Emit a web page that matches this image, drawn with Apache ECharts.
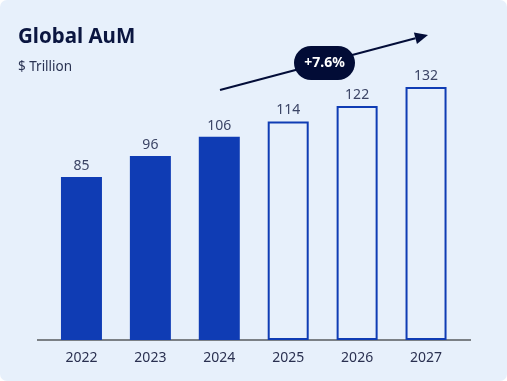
<!DOCTYPE html>
<html>
<head>
<meta charset="utf-8">
<script src="https://cdn.jsdelivr.net/npm/echarts@6/dist/echarts.min.js"></script>
<style>
html,body{margin:0;padding:0;background:#ffffff;}
#card{position:absolute;left:0;top:0;width:507px;height:381px;background:#e7f0fb;border-radius:7px;overflow:hidden;}
#chart{width:507px;height:381px;}
</style>
</head>
<body>
<div id="card"><div id="chart"></div></div>
<script>
const years = ['2022', '2023', '2024', '2025', '2026', '2027'];
const aum = [85, 96, 106, 114, 122, 132];
const forecastFrom = 3; // index of first projected year
const cagrLabel = '+7.6%';

const BLUE = '#0f3cb4';
const FONT = '"Noto Sans", "Open Sans", sans-serif';

const chart = echarts.init(document.getElementById('chart'));

const barData = aum.map((v, i) => ({
  value: v,
  itemStyle: i >= forecastFrom
    ? { color: 'rgba(0,0,0,0)', borderColor: BLUE, borderWidth: 2 }
    : { color: BLUE }
}));

// arrow geometry
const ax1 = 220, ay1 = 90, ax2 = 428, ay2 = 35;
const ang = Math.atan2(ay2 - ay1, ax2 - ax1);
const hl = 13, hw = 6;
const bx = ax2 - hl * Math.cos(ang), by = ay2 - hl * Math.sin(ang);
const head = [
  [ax2, ay2],
  [bx + hw * Math.sin(ang), by - hw * Math.cos(ang)],
  [bx - hw * Math.sin(ang), by + hw * Math.cos(ang)]
];

chart.setOption({
  backgroundColor: 'transparent',
  animation: false,
  title: {
    text: 'Global AuM',
    subtext: '$ Trillion',
    left: 13,
    top: 22,
    itemGap: 12,
    textStyle: { fontFamily: FONT, fontSize: 20.5, fontWeight: 'bold', color: '#0b1640' },
    subtextStyle: { fontFamily: FONT, fontSize: 13.5, color: '#2a3352' }
  },
  grid: { left: 47, right: 46.5, top: 71.6, bottom: 41, containLabel: false },
  xAxis: {
    type: 'category',
    data: years,
    axisLine: { show: false },
    axisTick: { show: false },
    axisLabel: { fontFamily: FONT, fontSize: 14, color: '#2a3050', margin: 11 }
  },
  yAxis: {
    type: 'value',
    min: 0,
    max: 140,
    show: false,
    splitLine: { show: false }
  },
  series: [{
    type: 'bar',
    data: barData,
    barWidth: 41,
    label: {
      show: true,
      position: 'top',
      distance: 4,
      fontFamily: FONT,
      fontSize: 14,
      color: '#3b4465'
    }
  }],
  graphic: [
    { type: 'line', shape: { x1: 37, y1: 340, x2: 471, y2: 340 }, style: { stroke: '#111111', lineWidth: 1.2 } },
    { type: 'line', shape: { x1: ax1, y1: ay1, x2: bx, y2: by }, style: { stroke: '#030d38', lineWidth: 2 } },
    { type: 'polygon', shape: { points: head }, style: { fill: '#030d38' } },
    { type: 'rect', shape: { x: 294, y: 46, width: 61, height: 34, r: 17 }, style: { fill: '#020c36' } },
    { type: 'text', x: 324.5, y: 63, style: { text: cagrLabel, fill: '#ffffff', font: 'bold 14px ' + FONT, align: 'center', verticalAlign: 'middle' } }
  ]
});
</script>
</body>
</html>
